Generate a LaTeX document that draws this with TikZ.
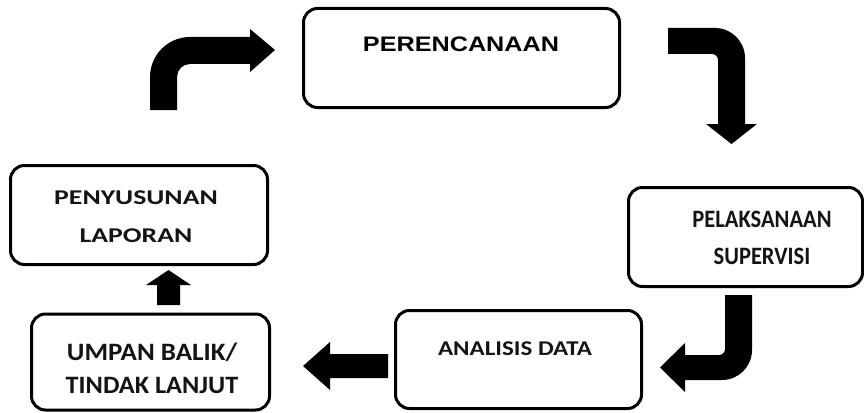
\documentclass[tikz,border=0pt]{standalone}
\usepackage{fontspec}
\setmainfont{Carlito}
\newfontfamily\arialfont{Liberation Sans}
\begin{document}
\begin{tikzpicture}[x=1pt,y=-1pt,
  box/.style={draw=black, line width=3pt, rounded corners=14pt, fill=white, inner sep=0pt},
  cal/.style={font=\fontsize{21}{25}\selectfont\bfseries, text=black!92, inner sep=0pt},
  calb/.style={font=\fontsize{25}{29}\selectfont\bfseries, text=black!92, inner sep=0pt},
  ari/.style={font=\arialfont\fontsize{21}{25}\selectfont\bfseries, text=black, inner sep=0pt},
  blk/.style={fill=black, draw=none}]
\useasboundingbox (0,0) rectangle (864,412);
% boxes
\node[box, minimum width=316pt, minimum height=99pt] (per) at (461.5,58) {};
\node[box, minimum width=257pt, minimum height=99pt] (pen) at (139,215) {};
\node[box, minimum width=234pt, minimum height=99pt] (pel) at (745.5,237) {};
\node[box, minimum width=246pt, minimum height=98pt] (ana) at (518.5,359.5) {};
\node[box, minimum width=238pt, minimum height=96pt] (ump) at (150.5,362) {};
% texts
\node[ari] (perT) at (461,44) {\scalebox{1.2}[1]{PERENCANAAN}};
\node[cal] (penT1) at (136,198) {\scalebox{1.32}[1]{PENYUSUNAN}};
\node[cal] (penT2) at (136,236) {\scalebox{1.32}[1]{LAPORAN}};
\node[calb] (pelT1) at (762,219) {\scalebox{0.9}[1]{PELAKSANAAN}};
\node[calb] (pelT2) at (762,256) {\scalebox{0.9}[1]{SUPERVISI}};
\node[cal] (anaT) at (515,349) {\scalebox{1.19}[1]{ANALISIS DATA}};
\node[calb] (umpT1) at (152,352) {\scalebox{1.08}[1]{UMPAN BALIK/}};
\node[calb] (umpT2) at (152,385) {\scalebox{1.05}[1]{TINDAK LANJUT}};
% top-left bent arrow
\fill[blk] (150,110) -- (150,77) arc[start angle=180, end angle=270, radius=40]
  -- (250,37) -- (250,29) -- (275,50) -- (250,72) -- (250,64) -- (190,64)
  arc[start angle=270, end angle=180, radius=13] -- (177,110) -- cycle;
% top-right bent arrow
\fill[blk] (668,28) -- (715,28) arc[start angle=270, end angle=360, radius=30]
  -- (745,124) -- (757,124) -- (731.5,144) -- (706,124) -- (718,124) -- (718,60)
  arc[start angle=0, end angle=-90, radius=6] -- (668,54) -- cycle;
% bottom-right bent arrow
\fill[blk] (725,295) -- (752,295) -- (752,350) arc[start angle=0, end angle=90, radius=30]
  -- (685,380) -- (685,392) -- (660,367.5) -- (685,343) -- (685,355) -- (719,355)
  arc[start angle=90, end angle=0, radius=6] -- cycle;
% left arrow
\fill[blk] (388,354) -- (330,354) -- (330,342) -- (303,366) -- (330,390) -- (330,378) -- (388,378) -- cycle;
% up arrow
\fill[blk] (157,305) -- (157,285) -- (146,285) -- (168.5,270) -- (191,285) -- (180,285) -- (180,305) -- cycle;
\end{tikzpicture}
\end{document}
